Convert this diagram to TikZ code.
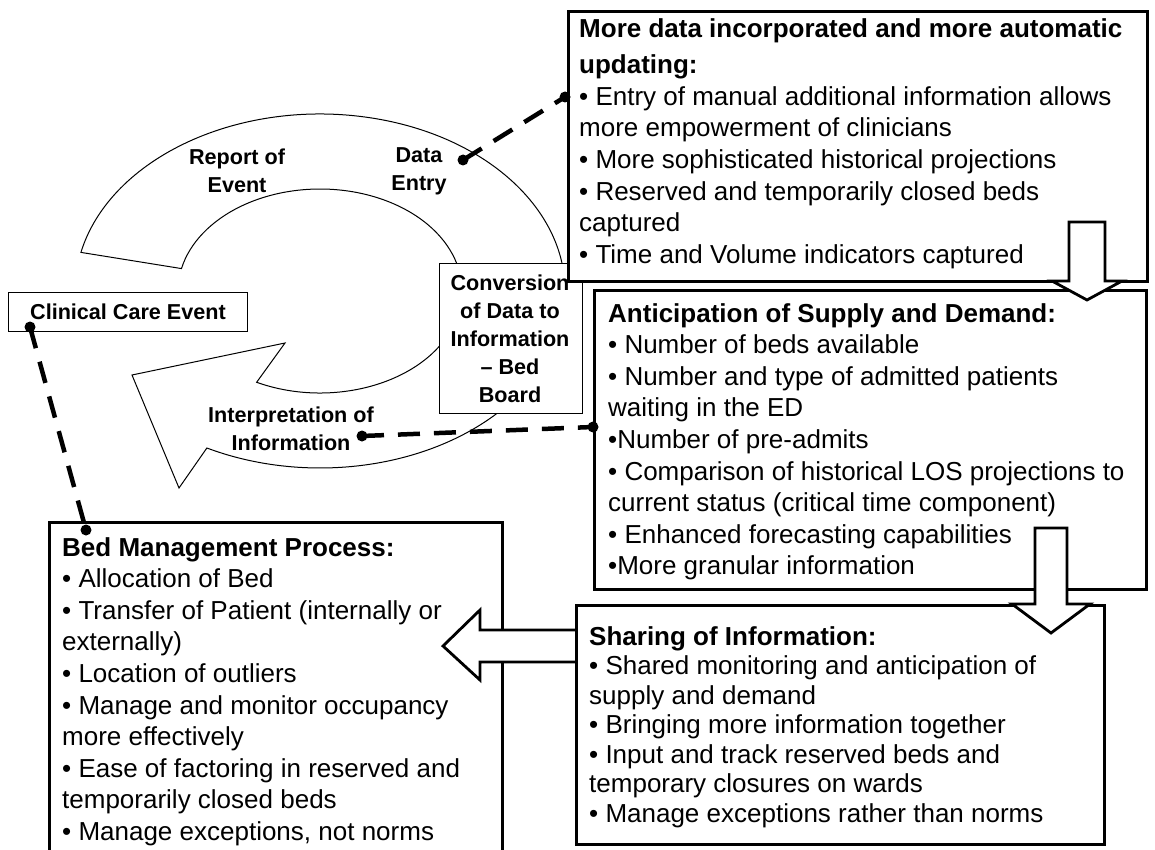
\documentclass[tikz,border=0pt]{standalone}
\usepackage{fontspec}
\setmainfont{Liberation Sans}
\usetikzlibrary{calc}
\tikzset{
  bigbox/.style={draw, line width=2.6pt, fill=white, inner sep=0pt, anchor=north west},
  thinbox/.style={draw, line width=1.3pt, fill=white, inner sep=0pt, anchor=north west},
  boxtext/.style={anchor=north west, align=left, inner sep=0pt, font=\fontsize{26}{31.6}\selectfont},
  lbl/.style={align=center, inner sep=0pt, font=\bfseries\fontsize{21.6}{28}\selectfont},
  dotnode/.style={circle, fill=black, inner sep=0pt, minimum size=11pt},
  dashline/.style={line width=4.5pt, dash pattern=on 22pt off 14pt},
  blockarrow/.style={draw, line width=2.8pt, fill=white, line join=miter},
  cycarrow/.style={draw, line width=1pt, fill=white, line join=miter},
}
\begin{document}
\begin{tikzpicture}[x=1pt, y=-1pt]
\clip (0,0) rectangle (1155,850);
\fill[white] (0,0) rectangle (1155,850);

% circular arrow
\coordinate (O) at (320,291);
\coordinate (I) at (320,291);
\path[cycarrow] ($(O)+(192.6:245 and 177)$)
  arc[start angle=192.6, end angle=477.5, x radius=245, y radius=177]
  -- (179,488) -- (132,375) -- (285,343)
  -- ($(I)+(476.5:142 and 102)$)
  arc[start angle=476.5, end angle=192.7, x radius=142, y radius=102]
  -- cycle;

\node[lbl] (report) at (237,171) {Report of\\Event};
\node[lbl] (dataentry) at (419,171) {Data\\Entry};
\node[lbl] (interp) at (291,429) {Interpretation of\\Information};

% conversion box
\node[thinbox, minimum width=143pt, minimum height=150pt] (conv) at (439,263) {};
\node[lbl] (convtext) at (510,339) {Conversion\\of Data to\\Information\\– Bed\\Board};

% clinical care event
\node[thinbox, minimum width=239pt, minimum height=39pt] (clin) at (8,292) {};
\node[lbl] (clintext) at (128,312) {Clinical Care Event};

% box 1
\node[bigbox, minimum width=579pt, minimum height=270pt] (b1) at (567,10) {};
\node[boxtext] (b1text) at (579,18) {\textbf{More data incorporated and more automatic}\\[5pt]
\textbf{updating:}\\
• Entry of manual additional information allows\\
more empowerment of clinicians\\
• More sophisticated historical projections\\
• Reserved and temporarily closed beds\\
captured\\
• Time and Volume indicators captured};

% box 2
\node[bigbox, minimum width=552pt, minimum height=299pt] (b2) at (593,289) {};
\node[boxtext] (b2text) at (608,303) {\textbf{Anticipation of Supply and Demand:}\\
• Number of beds available\\
• Number and type of admitted patients\\
waiting in the ED\\
•Number of pre-admits\\
• Comparison of historical LOS projections to\\
current status (critical time component)\\
• Enhanced forecasting capabilities\\
•More granular information};

% bed management box
\node[bigbox, minimum width=453pt, minimum height=360pt] (bed) at (48,521) {};
\node[boxtext] (bedtext) at (62,537) {\textbf{Bed Management Process:}\\
• Allocation of Bed\\
• Transfer of Patient (internally or\\
externally)\\
• Location of outliers\\
• Manage and monitor occupancy\\
more effectively\\
• Ease of factoring in reserved and\\
temporarily closed beds\\
• Manage exceptions, not norms};

% left arrow (sharing -> bed)
\path[blockarrow] (575,630) -- (480,630) -- (480,610) -- (443,646) -- (480,680) -- (480,662) -- (575,662);

% sharing box
\node[bigbox, minimum width=528pt, minimum height=239pt] (share) at (575,604) {};
\node[boxtext, font=\fontsize{26}{29.5}\selectfont] (sharetext) at (589,626) {\textbf{Sharing of Information:}\\
• Shared monitoring and anticipation of\\
supply and demand\\
• Bringing more information together\\
• Input and track reserved beds and\\
temporary closures on wards\\
• Manage exceptions rather than norms};

% down arrows
\path[blockarrow] (1069,222) -- (1069,281) -- (1052,281) -- (1087,300) -- (1122,281) -- (1105,281) -- (1105,222) -- cycle;
\path[blockarrow] (1035,528) -- (1035,604) -- (1012,604) -- (1051,633) -- (1090,604) -- (1067,604) -- (1067,528) -- cycle;

% dashed connectors with dots
\node[dotnode] (dclin) at (30,327) {};
\node[dotnode] (dbed) at (86,530) {};
\node[dotnode] (dentry) at (463,160) {};
\node[dotnode] (db1) at (565,97) {};
\node[dotnode] (dinterp) at (362,436) {};
\node[dotnode] (db2) at (593,427) {};
\draw[dashline] (dclin.center) -- (dbed.center);
\draw[dashline] (dentry.center) -- (db1.center);
\draw[dashline] (dinterp.center) -- (db2.center);
\end{tikzpicture}
\end{document}
